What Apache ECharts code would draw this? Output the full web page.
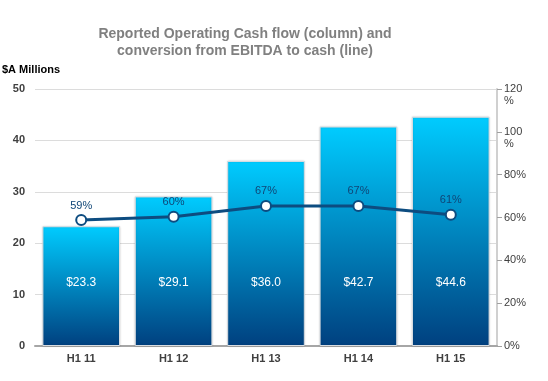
<!DOCTYPE html>
<html><head><meta charset="utf-8">
<script src="https://cdn.jsdelivr.net/npm/echarts@6/dist/echarts.min.js"></script>
<style>html,body{margin:0;padding:0;background:#fff}#c{width:548px;height:381px}</style>
</head><body><div id="c"></div>
<script>
var categories = ['H1 11','H1 12','H1 13','H1 14','H1 15'];
var cashFlow = [23.3, 29.1, 36.0, 42.7, 44.6];
var cashFlowLabels = ['$23.3','$29.1','$36.0','$42.7','$44.6'];
var conversion = [58.8, 60.4, 65.4, 65.4, 61.3];
var conversionLabels = ['59%','60%','67%','67%','61%'];
var leftTicks = [0,10,20,30,40,50];
var rightTickLabels = ['0%','20%','40%','60%','80%','100\n%','120\n%'];

var chart = echarts.init(document.getElementById('c'));
chart.setOption({
  animation:false,
  title:{text:'Reported Operating Cash flow (column) and\nconversion from EBITDA to cash (line)',left:240,textAlign:'center',top:21,
    textStyle:{color:'#808080',fontSize:14,fontWeight:'bold',fontFamily:'Liberation Sans, Arial',lineHeight:17}},
  graphic:[{type:'text',left:2,top:64,style:{text:'$A Millions',font:'bold 11px Liberation Sans, Arial',fill:'#000'}}],
  grid:{left:35,right:51,top:89,bottom:35},
  xAxis:{type:'category',data:categories,
    axisLine:{lineStyle:{color:'#a6a6a6',width:2}},axisTick:{show:false},
    axisLabel:{color:'#404040',fontWeight:'bold',fontSize:11,fontFamily:'Liberation Sans, Arial',margin:7}},
  yAxis:[{type:'value',min:leftTicks[0],max:leftTicks[leftTicks.length-1],interval:10,
    axisLine:{show:false},axisTick:{show:false},
    splitLine:{lineStyle:{color:'#dcdcdc',width:1}},
    axisLabel:{color:'#404040',fontWeight:'bold',fontSize:11,fontFamily:'Liberation Sans, Arial',margin:10}},
   {type:'value',min:0,max:120,interval:20,position:'right',
    axisLine:{show:true,lineStyle:{color:'#d0d0d0',width:2}},
    axisTick:{show:true,length:5,lineStyle:{color:'#a0a0a0'}},
    splitLine:{show:false},
    axisLabel:{color:'#404040',fontSize:11,fontFamily:'Liberation Sans, Arial',margin:7,lineHeight:12,verticalAlign:'top',padding:[-6,0,0,0],
      formatter:function(v){return rightTickLabels[v/20];}}}],
  series:[{type:'bar',data:cashFlow,barWidth:'84%',yAxisIndex:0,
    itemStyle:{color:new echarts.graphic.LinearGradient(0,0,0,1,[{offset:0,color:'#00ccff'},{offset:1,color:'#00407f'}]),
      borderColor:'#d8dde2',borderWidth:1,shadowColor:'rgba(0,0,0,0.15)',shadowBlur:2},
    label:{show:true,position:'insideBottom',distance:57,color:'#fff',fontSize:12,fontFamily:'Liberation Sans, Arial',
      formatter:function(p){return cashFlowLabels[p.dataIndex];}}},
   {type:'line',data:conversion,yAxisIndex:1,symbol:'circle',symbolSize:10,
    lineStyle:{color:'#0d4c80',width:3},
    itemStyle:{color:'#fff',borderColor:'#0d4c80',borderWidth:2},
    label:{show:true,position:'top',distance:3,color:'#0f4677',fontSize:11,fontFamily:'Liberation Sans, Arial',
      formatter:function(p){return conversionLabels[p.dataIndex];}}}]
});
</script></body></html>
